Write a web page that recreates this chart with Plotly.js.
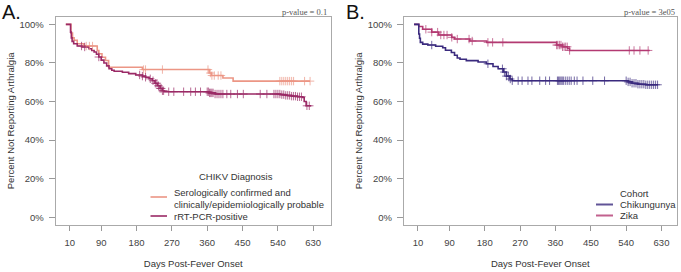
<!DOCTYPE html>
<html>
<head>
<meta charset="utf-8">
<script src="https://cdn.plot.ly/plotly-3.0.1.min.js"></script>
<style>html,body{margin:0;padding:0;background:#fff;}#chart{width:681px;height:272px;}</style>
</head>
<body>
<div id="chart"></div>
<script>
// ---- Panel A: CHIKV Diagnosis ----
const seroDays  = [0, 13, 17, 21, 29, 46, 80, 84, 92, 101, 109, 195, 365, 371, 400, 426, 622];
const seroSurv  = [1, 0.955, 0.93, 0.918, 0.90, 0.888, 0.865, 0.848, 0.83, 0.813, 0.778, 0.766, 0.748, 0.735, 0.722, 0.706, 0.706];
const seroCens  = [52, 60, 68, 198, 203, 246, 362, 368, 372, 378, 388, 395, 545, 550, 555, 560, 565, 570, 575, 580, 608, 622];

const pcrDays = [0, 12, 14, 16, 20, 29, 42, 59, 66, 72, 78, 84, 90, 97, 104, 110, 117, 123, 144, 160, 178, 195, 203, 212, 220, 227, 233, 240, 246, 250, 365, 380, 546, 560, 575, 590, 603, 607, 612, 625];
const pcrSurv = [1, 0.96, 0.93, 0.912, 0.90, 0.888, 0.883, 0.874, 0.865, 0.857, 0.845, 0.831, 0.815, 0.80, 0.785, 0.77, 0.762, 0.757, 0.752, 0.745, 0.738, 0.732, 0.726, 0.718, 0.708, 0.695, 0.682, 0.668, 0.656, 0.651, 0.645, 0.639, 0.636, 0.632, 0.628, 0.625, 0.621, 0.60, 0.578, 0.578];
const pcrCens = [40, 48, 84, 188, 195, 203, 215, 222, 228, 232, 236, 240, 243, 246, 249, 262, 275, 300, 318, 330, 343, 360, 363, 366, 369, 372, 375, 380, 385, 390, 395, 400, 410, 420, 437, 452, 495, 512, 530, 535, 540, 545, 550, 555, 560, 565, 570, 575, 580, 585, 590, 595, 600, 614, 620];

// ---- Panel B: Cohort ----
const chikDays = [0, 12, 14, 16, 22, 35, 55, 73, 80, 95, 103, 110, 117, 133, 163, 184, 201, 214, 227, 235, 244, 250, 545, 555, 570, 590, 621];
const chikSurv = [1, 0.95, 0.928, 0.907, 0.898, 0.893, 0.887, 0.879, 0.866, 0.854, 0.84, 0.826, 0.819, 0.812, 0.805, 0.796, 0.782, 0.77, 0.753, 0.732, 0.717, 0.708, 0.702, 0.695, 0.69, 0.687, 0.687];
const chikCens = [45, 188, 225, 230, 235, 240, 245, 250, 265, 275, 290, 300, 320, 335, 345, 365, 368, 371, 374, 377, 380, 385, 390, 395, 400, 408, 415, 430, 455, 485, 540, 545, 550, 555, 560, 565, 570, 575, 580, 585, 590, 595, 600, 605, 610, 615, 620];

const zikaDays = [0, 12, 22, 45, 63, 96, 103, 142, 185, 363, 378, 391, 396, 600];
const zikaSurv = [1, 0.989, 0.975, 0.96, 0.945, 0.933, 0.924, 0.914, 0.907, 0.893, 0.884, 0.875, 0.865, 0.865];
const zikaCens = [30, 45, 60, 68, 76, 84, 96, 110, 140, 148, 188, 200, 226, 363, 366, 370, 374, 378, 382, 386, 390, 396, 548, 560, 575, 596];

const xTicks = [10, 90, 180, 270, 360, 450, 540, 630];
const yTicks = [0, 0.2, 0.4, 0.6, 0.8, 1.0];
const yTickText = ['0%', '20%', '40%', '60%', '80%', '100%'];

const colSero = '#EC9685', colPcr = '#9B2A66', colChik = '#3A2A7E', colZika = '#B33A72';

function survAt(days, surv, t) {
  let v = surv[0];
  for (let i = 0; i < days.length; i++) { if (days[i] <= t) v = surv[i]; }
  return v;
}
function curve(days, surv, col, xa, ya) {
  return {x: days, y: surv, xaxis: xa, yaxis: ya, type: 'scatter', mode: 'lines',
          line: {shape: 'hv', color: col, width: 1.6}, showlegend: false, hoverinfo: 'skip'};
}
function cens(days, surv, times, col, xa, ya) {
  return {x: times, y: times.map(t => survAt(days, surv, t)), xaxis: xa, yaxis: ya, type: 'scatter', mode: 'markers',
          marker: {symbol: 'cross-thin', size: 6, line: {color: col, width: 1}, color: col, opacity: 0.7},
          showlegend: false, hoverinfo: 'skip'};
}

const data = [
  curve(seroDays, seroSurv, colSero, 'x', 'y'),
  curve(pcrDays, pcrSurv, colPcr, 'x', 'y'),
  cens(seroDays, seroSurv, seroCens, colSero, 'x', 'y'),
  cens(pcrDays, pcrSurv, pcrCens, colPcr, 'x', 'y'),
  curve(zikaDays, zikaSurv, colZika, 'x2', 'y2'),
  curve(chikDays, chikSurv, colChik, 'x2', 'y2'),
  cens(zikaDays, zikaSurv, zikaCens, colZika, 'x2', 'y2'),
  cens(chikDays, chikSurv, chikCens, colChik, 'x2', 'y2')
];

const F = 'Liberation Sans, Arial, Helvetica, sans-serif';
const tickFont = {family: F, size: 9.5, color: '#444'};
const titleFont = {family: F, size: 9.5, color: '#333'};

function xAxis(domain, range, anchor) {
  return {domain: domain, range: range, anchor: anchor, tickmode: 'array', tickvals: xTicks,
          ticks: 'outside', ticklen: 5, tickcolor: '#999', tickwidth: 1, tickfont: tickFont,
          showline: true, mirror: true, linecolor: '#aaa', linewidth: 1, showgrid: false, zeroline: false,
          ticklabelstandoff: 4,
          title: {text: 'Days Post-Fever Onset', font: titleFont, standoff: 12}};
}
function yAxis(anchor) {
  return {domain: [0.1728, 0.9386], range: [-0.04, 1.04], anchor: anchor, tickmode: 'array',
          tickvals: yTicks, ticktext: yTickText, ticks: 'outside', ticklen: 6, tickcolor: '#999', tickwidth: 1,
          tickfont: tickFont, showline: true, mirror: true, linecolor: '#aaa', linewidth: 1,
          showgrid: false, zeroline: false, ticklabelstandoff: 3,
          title: {text: 'Percent Not Reporting Arthralgia', font: titleFont, standoff: 3}};
}

function legendLine(x0, x1, y, col) {
  return {type: 'line', xref: 'paper', yref: 'paper', x0: x0/681, x1: x1/681, y0: 1 - y/272, y1: 1 - y/272,
          line: {color: col, width: 2}, opacity: 0.8};
}
function txt(text, x, y, xanchor, font, yanchor) {
  return {text: text, x: x/681, y: 1 - y/272, xref: 'paper', yref: 'paper', xanchor: xanchor,
          yanchor: yanchor || 'middle', borderpad: 0,
          showarrow: false, font: font, align: 'left'};
}

const legFont = {family: F, size: 9.5, color: '#333'};
const pFont = {family: 'Liberation Serif, Times New Roman, serif', size: 8.5, color: '#555'};
const panelFont = {family: F, size: 20, color: '#111'};

const layout = {
  width: 681, height: 272, margin: {l: 0, r: 0, t: 0, b: 0},
  paper_bgcolor: '#fff', plot_bgcolor: '#fff', showlegend: false,
  xaxis: xAxis([0.0818, 0.4856], [-25.8, 674.5], 'y'),
  yaxis: yAxis('x'),
  xaxis2: xAxis([0.5932, 0.9937], [-25.7, 668.7], 'y2'),
  yaxis2: yAxis('x2'),
  shapes: [
    legendLine(150.5, 167, 197, colSero),
    legendLine(150.5, 167, 216, colPcr),
    legendLine(596, 613, 204.5, colChik),
    legendLine(596, 613, 215.5, colZika)
  ],
  annotations: [
    txt('A.', 0.5, 0, 'left', panelFont, 'top'),
    txt('B.', 345.5, 0, 'left', panelFont, 'top'),
    txt('p-value = 0.1', 327.5, 12.5, 'right', pFont),
    txt('p-value = 3e05', 675.5, 12.5, 'right', pFont),
    txt('CHIKV Diagnosis', 236.5, 176, 'center', legFont),
    txt('Serologically confirmed and<br>clinically/epidemiologically probable', 172.5, 198, 'left', legFont),
    txt('rRT-PCR-positive', 172.5, 216.5, 'left', legFont),
    txt('Cohort', 618.5, 193.5, 'left', legFont),
    txt('Chikungunya', 618.5, 204.5, 'left', legFont),
    txt('Zika', 618.5, 215.5, 'left', legFont)
  ]
};

Plotly.newPlot('chart', data, layout, {staticPlot: true, displayModeBar: false});
</script>
</body>
</html>
